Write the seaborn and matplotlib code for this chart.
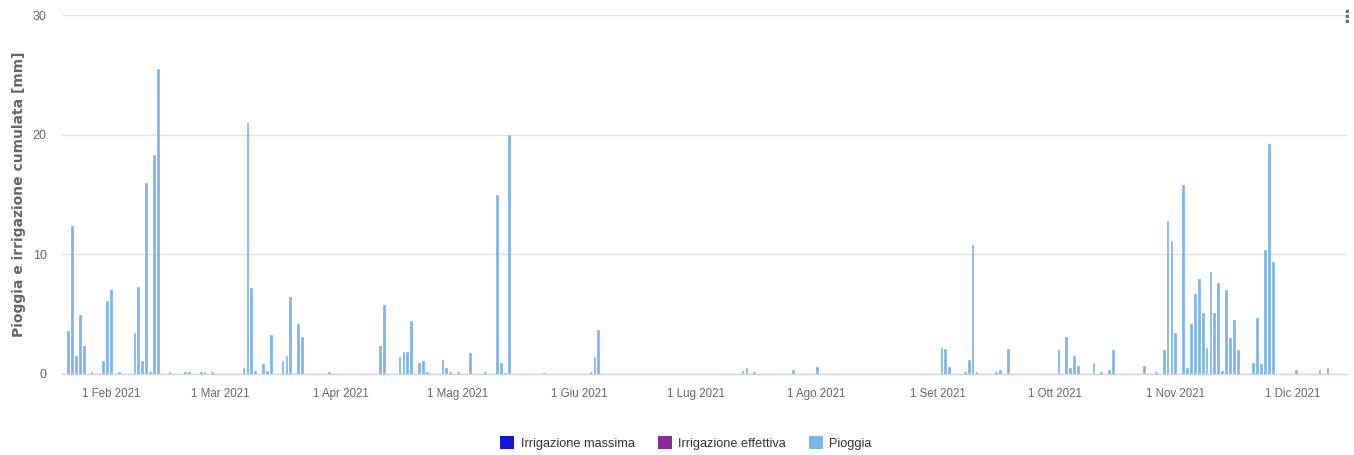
import matplotlib
matplotlib.use("Agg")
import matplotlib.pyplot as plt
from matplotlib.patches import Patch
import numpy as np
import pandas as pd
import seaborn as sns

# daily rain (mm)
rain_dates = [
    '2021-01-21', '2021-01-22', '2021-01-23', '2021-01-24', '2021-01-25', '2021-01-27',
    '2021-01-30', '2021-01-31', '2021-02-01', '2021-02-03', '2021-02-07', '2021-02-08',
    '2021-02-09', '2021-02-10', '2021-02-11', '2021-02-12', '2021-02-13', '2021-02-16',
    '2021-02-20', '2021-02-21', '2021-02-24', '2021-02-25', '2021-02-27',
    '2021-03-07', '2021-03-08', '2021-03-09', '2021-03-10', '2021-03-12', '2021-03-13',
    '2021-03-14', '2021-03-17', '2021-03-18', '2021-03-19', '2021-03-21', '2021-03-22',
    '2021-03-29',
    '2021-04-11', '2021-04-12', '2021-04-16', '2021-04-17', '2021-04-18', '2021-04-19',
    '2021-04-21', '2021-04-22', '2021-04-23', '2021-04-27', '2021-04-28', '2021-04-29',
    '2021-05-01', '2021-05-04', '2021-05-08', '2021-05-11', '2021-05-12', '2021-05-13',
    '2021-05-14', '2021-05-23',
    '2021-06-04', '2021-06-05', '2021-06-06',
    '2021-07-13', '2021-07-14', '2021-07-16', '2021-07-26', '2021-08-01',
    '2021-09-02', '2021-09-03', '2021-09-04', '2021-09-08', '2021-09-09', '2021-09-10',
    '2021-09-11', '2021-09-16', '2021-09-17', '2021-09-19',
    '2021-10-02', '2021-10-04', '2021-10-05', '2021-10-06', '2021-10-07', '2021-10-11',
    '2021-10-13', '2021-10-15', '2021-10-16', '2021-10-24', '2021-10-27', '2021-10-29',
    '2021-10-30', '2021-10-31',
    '2021-11-01', '2021-11-03', '2021-11-04', '2021-11-05', '2021-11-06', '2021-11-07',
    '2021-11-08', '2021-11-09', '2021-11-10', '2021-11-11', '2021-11-12', '2021-11-13',
    '2021-11-14', '2021-11-15', '2021-11-16', '2021-11-17', '2021-11-21', '2021-11-22',
    '2021-11-23', '2021-11-24', '2021-11-25', '2021-11-26',
    '2021-12-02', '2021-12-08', '2021-12-10',
]
rain_mm = [
    3.6, 12.4, 1.5, 4.9, 2.3, 0.15,
    1.05, 6.1, 7.0, 0.15, 3.4, 7.3,
    1.05, 16.0, 0.2, 18.3, 25.5, 0.15,
    0.15, 0.15, 0.15, 0.15, 0.15,
    0.5, 21.0, 7.2, 0.25, 0.8, 0.25,
    3.3, 1.05, 1.5, 6.4, 4.2, 3.1,
    0.15,
    2.3, 5.8, 1.45, 1.8, 1.8, 4.4,
    0.9, 1.1, 0.15, 1.15, 0.5, 0.15,
    0.15, 1.75, 0.2, 15.0, 0.9, 0.1,
    20.0, 0.1,
    0.15, 1.4, 3.7,
    0.25, 0.5, 0.15, 0.35, 0.6,
    2.2, 2.1, 0.6, 0.15, 1.15, 10.8,
    0.15, 0.15, 0.35, 2.1,
    2.0, 3.1, 0.5, 1.5, 0.7, 0.9,
    0.15, 0.35, 2.0, 0.7, 0.15, 2.0,
    12.8, 11.1,
    3.4, 15.8, 0.5, 4.2, 6.7, 7.9,
    5.1, 2.2, 8.55, 5.1, 7.6, 0.25,
    7.0, 3.0, 4.5, 2.0, 0.95, 4.7,
    0.8, 10.4, 19.2, 9.35,
    0.35, 0.35, 0.5,
]

tick_dates = ['2021-02-01', '2021-03-01', '2021-04-01', '2021-05-01', '2021-06-01', '2021-07-01',
              '2021-08-01', '2021-09-01', '2021-10-01', '2021-11-01', '2021-12-01']
tick_labels = ['1 Feb 2021', '1 Mar 2021', '1 Apr 2021', '1 Mag 2021', '1 Giu 2021', '1 Lug 2021',
               '1 Ago 2021', '1 Set 2021', '1 Ott 2021', '1 Nov 2021', '1 Dic 2021']
y_ticks = [0, 10, 20, 30]

legend_labels = ['Irrigazione massima', 'Irrigazione effettiva', 'Pioggia']
legend_colors = ['#1515d8', '#8a2b9b', '#7cb5ec']

START = pd.Timestamp('2021-01-01')
SANS = ['Liberation Sans', 'DejaVu Sans']


def day_index(dates):
    return np.asarray((pd.to_datetime(dates) - START).days)


def plot_rain(file_name):
    df = pd.DataFrame({'day': day_index(rain_dates), 'rain': rain_mm})

    fig = plt.figure(figsize=(13.54, 4.55), dpi=100)
    ax = fig.add_axes([62 / 1354, 81 / 455, 1285 / 1354, 359 / 455])

    sns.barplot(data=df, x='day', y='rain', native_scale=True, width=0.45, color='#7cb5ec',
                saturation=1, errorbar=None, linewidth=0.5, edgecolor='#7cb5ec', ax=ax)

    ax.set_xlim(18.43, 348.03)
    ax.set_ylim(0, 30)
    ax.set_xticks(day_index(tick_dates))
    ax.set_xticklabels(tick_labels, family=SANS, fontsize=8.3, color='#666666')
    ax.set_yticks(y_ticks)
    ax.set_yticklabels([str(t) for t in y_ticks], family=SANS, fontsize=9, color='#666666')
    ax.tick_params(axis='x', length=7.5, width=1, color='#ccd6eb', pad=2.5)
    ax.tick_params(axis='y', length=0, pad=11)

    ax.yaxis.grid(True, color='#e3e3e3', lw=1)
    ax.set_axisbelow(True)
    for side in ['top', 'right', 'left']:
        ax.spines[side].set_visible(False)
    ax.spines['bottom'].set_color('#ccd6eb')
    ax.spines['bottom'].set_linewidth(1)
    ax.spines['bottom'].set_zorder(5)

    ax.set_xlabel('')
    ax.set_ylabel('Pioggia e irrigazione cumulata [mm]', fontsize=10, fontweight='bold',
                  color='#666666', family='DejaVu Sans', labelpad=0)
    ax.yaxis.set_label_coords(-36 / 1285, 0.5)

    handles = [Patch(facecolor=c, edgecolor='none') for c in legend_colors]
    fig.legend(handles, legend_labels, loc='center', bbox_to_anchor=(686 / 1354, 1 - 443 / 455),
               ncol=3, frameon=False, handlelength=1.1, handleheight=1.1, handletextpad=0.5,
               columnspacing=1.8, prop={'family': SANS, 'size': 9.2}, labelcolor='#333333')

    fig.text(1346 / 1354, 1 - 17 / 455, '\u22ee', fontsize=12, fontweight='bold', color='#666666',
             ha='center', va='center', family='DejaVu Sans')

    plt.savefig(file_name, dpi=100)
    plt.close()


if __name__ == '__main__':
    sns.set_theme(style='white')
    plt.rcParams['font.family'] = SANS
    plot_rain('out.png')
